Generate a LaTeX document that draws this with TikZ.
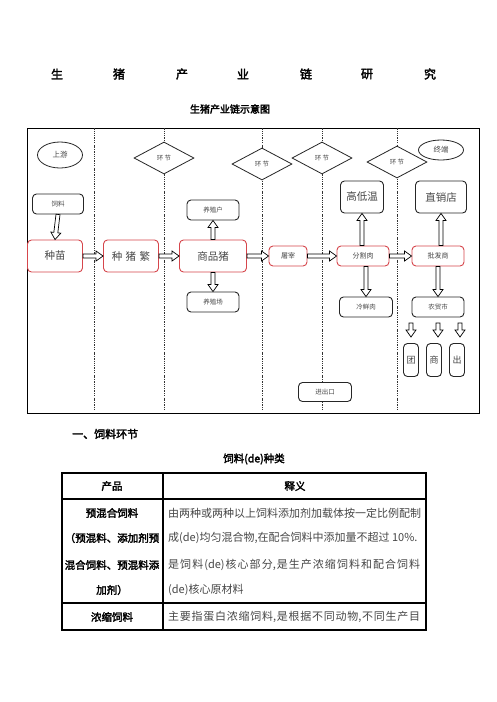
\documentclass[tikz,border=0pt]{standalone}
\usepackage{fontspec}
\setmainfont{Liberation Serif}
\newfontfamily\cjk{Noto Sans CJK SC}
\newfontfamily\cjkb[FakeBold=2.5]{Noto Sans CJK SC}
\usetikzlibrary{shapes.geometric,calc}
\definecolor{rb}{RGB}{214,70,76}
\definecolor{tg}{RGB}{70,70,70}
\tikzset{
  redbox/.style={draw=rb, line width=0.9pt, rounded corners=4pt, fill=white, inner sep=0pt, text=tg, font=\cjk\fontsize{10.5}{12}\selectfont},
  blkbox/.style={draw=black!85, line width=0.9pt, rounded corners=4pt, fill=white, inner sep=0pt, text=tg, font=\cjk\fontsize{6.5}{8}\selectfont},
  bigbox/.style={blkbox, font=\cjk\fontsize{10.5}{12}\selectfont},
  dia/.style={diamond, draw=black!85, line width=0.8pt, fill=white, aspect=1.85, inner sep=0pt, minimum width=60pt, minimum height=32pt, text=tg, font=\cjk\fontsize{6.5}{8}\selectfont},
  ell/.style={ellipse, draw=black!85, line width=0.8pt, fill=white, inner sep=0pt, text=tg, font=\cjk\fontsize{7.5}{9}\selectfont},
  harrowline/.style={draw=black, line width=0.7pt, fill=white, line join=miter},
  vline/.style={line width=0.6pt, dash pattern=on 1.6pt off 1.2pt on 0.6pt off 1.2pt, black!80},
  tline/.style={line width=1.1pt, black},
  hd/.style={font=\cjkb\fontsize{10.5}{12}\selectfont, inner sep=0pt},
  bd/.style={font=\cjk\fontsize{11}{12}\selectfont, text=tg, inner sep=0pt, anchor=west},
  ttl/.style={font=\cjkb\fontsize{12}{14}\selectfont, inner sep=0pt}
}
\newcommand\harrow[2]{\path let \p1=(#1), \p2=(#2), \n1={atan2(\y2-\y1,\x2-\x1)}, \n2={veclen(\x2-\x1,\y2-\y1)} in
  [shift={(\p1)}, rotate=\n1] [harrowline] (0pt,2pt) -- ({\n2-7},2pt) -- ({\n2-7},5pt) -- ({\n2},0pt) -- ({\n2-7},-5pt) -- ({\n2-7},-2pt) -- (0pt,-2pt) -- cycle;}
\newcommand\fl{\hskip 0pt plus 1fil\relax}
\begin{document}
\begin{tikzpicture}[x=1pt,y=-1pt]
\useasboundingbox[fill=white] (0,0) rectangle (496,702);
% title
\foreach \c/\x [count=\i] in {生/57,猪/119,产/182,业/243,链/306,研/367,究/430}
  \node[ttl] (t\i) at (\x,74) {\c};
\node[font=\cjkb\fontsize{10}{12}\selectfont, inner sep=0pt] (sub) at (230,109) {生猪产业链示意图};
% frame
\draw[line width=0.9pt] (27,128) rectangle (479,413);
\foreach \x in {94,164,262,322,397} \draw[vline] (\x,128) -- (\x,411);
% diamonds and ellipses
\node[dia] (d1) at (164,158) {环\ 节};
\node[dia] (d2) at (262,164) {环\ 节};
\node[dia] (d3) at (322,158) {环\ 节};
\node[dia] (d4) at (397,162) {环\ 节};
\node[ell, minimum width=45pt, minimum height=26pt] (up) at (60,155) {上游};
\node[ell, minimum width=45pt, minimum height=20pt] (down) at (441,150) {终端};
% main boxes
\node[blkbox, minimum width=51pt, minimum height=20pt] (feed) at (58,204) {饲料};
\node[redbox, minimum width=55pt, minimum height=32pt] (seed) at (55,256) {种苗};
\node[redbox, minimum width=55pt, minimum height=32pt] (breed) at (131,256) {种\,\,猪\,\,繁};
\node[redbox, minimum width=67pt, minimum height=32pt] (pig) at (213,256) {商品猪};
\node[redbox, minimum width=38pt, minimum height=20pt, font=\cjk\fontsize{7}{8}\selectfont] (slau) at (288,256) {屠宰};
\node[redbox, minimum width=52pt, minimum height=20pt, font=\cjk\fontsize{7}{8}\selectfont] (cut) at (363,256) {分割肉};
\node[redbox, minimum width=52pt, minimum height=20pt, font=\cjk\fontsize{7}{8}\selectfont] (whole) at (438,256) {批发商};
\node[blkbox, minimum width=52pt, minimum height=20pt] (farmer) at (213,210) {养殖户};
\node[blkbox, minimum width=52pt, minimum height=20pt] (farm) at (213,302) {养殖场};
\node[bigbox, minimum width=43pt, minimum height=32pt] (temp) at (362,197) {高低温};
\node[bigbox, minimum width=51pt, minimum height=32pt] (shop) at (441,197) {直销店};
\node[blkbox, minimum width=53pt, minimum height=20pt] (fresh) at (366,307) {冷鲜肉};
\node[blkbox, minimum width=52pt, minimum height=20pt] (market) at (438,307) {农贸市};
\node[blkbox, minimum width=15pt, minimum height=33pt, font=\cjk\fontsize{9}{10}\selectfont] (tuan) at (411,360) {团};
\node[blkbox, minimum width=15pt, minimum height=33pt, font=\cjk\fontsize{9}{10}\selectfont] (shang) at (434,360) {商};
\node[blkbox, minimum width=15pt, minimum height=33pt, font=\cjk\fontsize{9}{10}\selectfont] (chu) at (457,360) {出};
\node[blkbox, minimum width=53pt, minimum height=19pt] (imp) at (325,392) {进出口};
% arrows
\harrow{feed.south}{seed.north}
\harrow{seed.east}{breed.west}
\harrow{breed.east}{pig.west}
\harrow{pig.east}{slau.west}
\harrow{slau.east}{cut.west}
\harrow{cut.east}{whole.west}
\harrow{pig.north}{farmer.south}
\harrow{pig.south}{farm.north}
\harrow{cut.north -| temp.south}{temp.south}
\harrow{whole.north -| shop.south}{shop.south}
\harrow{cut.south -| fresh.north}{fresh.north}
\harrow{whole.south}{market.north}
\coordinate (a1s) at (411,323); \coordinate (a1e) at (411,337);
\coordinate (a2s) at (438,323); \coordinate (a2e) at (438,337);
\coordinate (a3s) at (460,323); \coordinate (a3e) at (460,337);
\harrow{a1s}{a1e}
\harrow{a2s}{a2e}
\harrow{a3s}{a3e}
% section heading
\node[font=\cjkb\fontsize{11}{13}\selectfont, inner sep=0pt, anchor=west] (sec) at (72,434) {一、饲料环节};
\node[font=\cjkb\fontsize{10.5}{12}\selectfont, inner sep=0pt] (cap) at (254,459) {饲料(de)种类};
% table
\draw[tline] (62,473) rectangle (426,630);
\draw[tline] (163,473) -- (163,630);
\draw[tline] (62,499) -- (426,499);
\draw[tline] (62,603) -- (426,603);
\node[hd] (h1) at (112,486) {产品};
\node[hd] (h2) at (295,486) {释义};
\node[hd] (l1) at (112,513) {预混合饲料};
\node[hd] (l2) at (112,538) {（预混料、添加剂预};
\node[hd] (l3) at (112,565) {混合饲料、预混料添};
\node[hd] (l4) at (112,590) {加剂）};
\node[bd] (r1) at (168,513) {\hbox to 252pt{由\fl 两\fl 种\fl 或\fl 两\fl 种\fl 以\fl 上\fl 饲\fl 料\fl 添\fl 加\fl 剂\fl 加\fl 载\fl 体\fl 按\fl 一\fl 定\fl 比\fl 例\fl 配\fl 制}};
\node[bd] (r2) at (168,538) {成(de)均匀混合物,在配合饲料中添加量不超过\ 10\%.};
\node[bd] (r3) at (168,565) {\hbox to 252pt{是\fl 饲\fl 料\fl (de)\fl 核\fl 心\fl 部\fl 分,\fl 是\fl 生\fl 产\fl 浓\fl 缩\fl 饲\fl 料\fl 和\fl 配\fl 合\fl 饲\fl 料}};
\node[bd] (r4) at (168,590) {(de)核心原材料};
\node[hd] (l5) at (112,617) {浓缩饲料};
\node[bd] (r5) at (168,617) {\hbox to 252pt{主\fl 要\fl 指\fl 蛋\fl 白\fl 浓\fl 缩\fl 饲\fl 料,\fl 是\fl 根\fl 据\fl 不\fl 同\fl 动\fl 物,\fl 不\fl 同\fl 生\fl 产\fl 目}};
\end{tikzpicture}
\end{document}
